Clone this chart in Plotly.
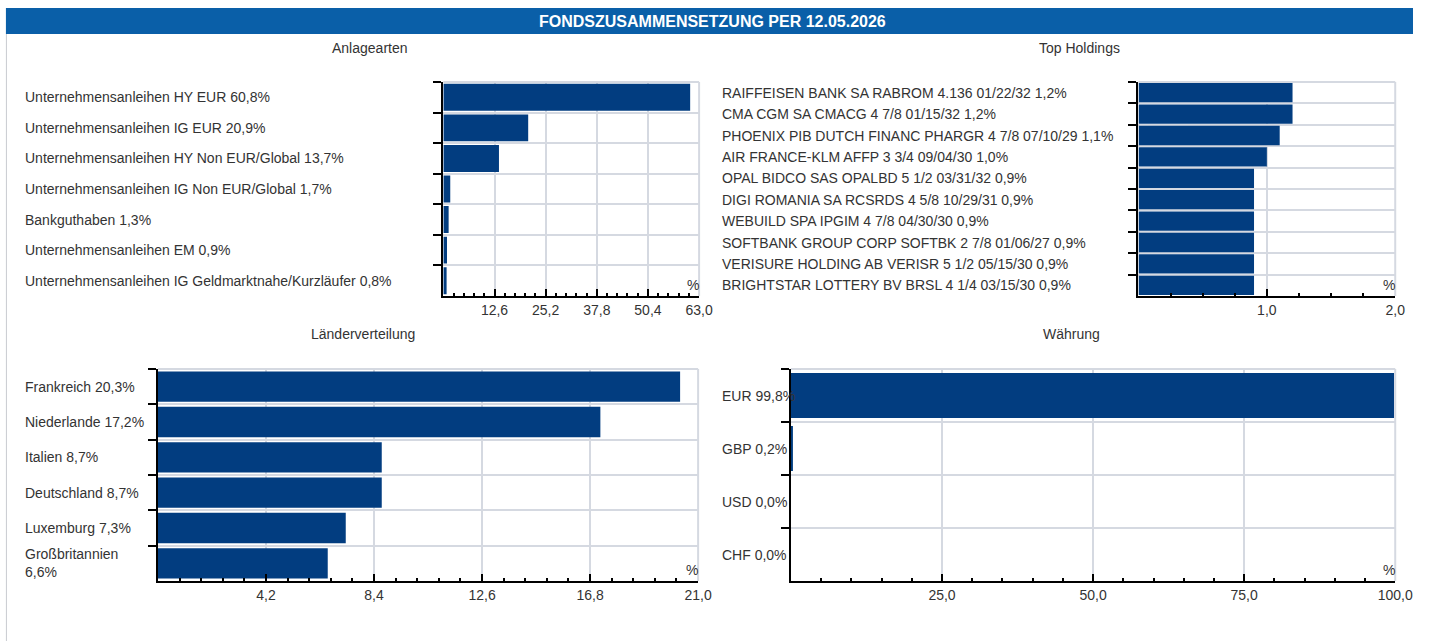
import plotly.graph_objects as go

# ---- data ---------------------------------------------------------------
anlage_names = [
    "Unternehmensanleihen HY EUR",
    "Unternehmensanleihen IG EUR",
    "Unternehmensanleihen HY Non EUR/Global",
    "Unternehmensanleihen IG Non EUR/Global",
    "Bankguthaben",
    "Unternehmensanleihen EM",
    "Unternehmensanleihen IG Geldmarktnahe/Kurzläufer",
]
anlage_values = [60.8, 20.9, 13.7, 1.7, 1.3, 0.9, 0.8]
anlage_ticks = [12.6, 25.2, 37.8, 50.4, 63.0]

holding_names = [
    "RAIFFEISEN BANK SA RABROM 4.136 01/22/32",
    "CMA CGM SA CMACG 4 7/8 01/15/32",
    "PHOENIX PIB DUTCH FINANC PHARGR 4 7/8 07/10/29",
    "AIR FRANCE-KLM AFFP 3 3/4 09/04/30",
    "OPAL BIDCO SAS OPALBD 5 1/2 03/31/32",
    "DIGI ROMANIA SA RCSRDS 4 5/8 10/29/31",
    "WEBUILD SPA IPGIM 4 7/8 04/30/30",
    "SOFTBANK GROUP CORP SOFTBK 2 7/8 01/06/27",
    "VERISURE HOLDING AB VERISR 5 1/2 05/15/30",
    "BRIGHTSTAR LOTTERY BV BRSL 4 1/4 03/15/30",
]
holding_values = [1.2, 1.2, 1.1, 1.0, 0.9, 0.9, 0.9, 0.9, 0.9, 0.9]
holding_ticks = [1.0, 2.0]

land_names = ["Frankreich", "Niederlande", "Italien", "Deutschland", "Luxemburg", "Großbritannien"]
land_values = [20.3, 17.2, 8.7, 8.7, 7.3, 6.6]
land_ticks = [4.2, 8.4, 12.6, 16.8, 21.0]

waehrung_names = ["EUR", "GBP", "USD", "CHF"]
waehrung_values = [99.8, 0.2, 0.0, 0.0]
waehrung_ticks = [25.0, 50.0, 75.0, 100.0]

# ---- styling ------------------------------------------------------------
W, H = 1431, 641
FONT = "Liberation Sans, Arial, sans-serif"
TXT = "#333333"
BAR = "#023d80"
GRID = "#d5d9e1"
HEAD = "#0a5fa8"


def px_x(v):
    return v / W


def px_y(v):
    return (H - v) / H


def pct(v):
    return f"{v:.1f}%".replace(".", ",")


panels = [
    dict(names=anlage_names, values=anlage_values, ticks=anlage_ticks, xmax=63.0, minor=2.52,
         box=(449, 708, 82, 296), lab_x=23, width=0.88, title="Anlagearten", tpos=(375, 48)),
    dict(names=holding_names, values=holding_values, ticks=holding_ticks, xmax=2.0, minor=0.25,
         box=(1153, 1413, 82, 296), lab_x=729, width=0.9, title="Top Holdings", tpos=(1093, 48)),
    dict(names=land_names, values=land_values, ticks=land_ticks, xmax=21.0, minor=0.84,
         box=(160, 707, 369, 581), lab_x=23, width=0.86, title="Länderverteilung", tpos=(368, 334)),
    dict(names=waehrung_names, values=waehrung_values, ticks=waehrung_ticks, xmax=100.0, minor=5.0,
         box=(801, 1413, 369, 581), lab_x=729, width=0.85, title="Währung", tpos=(1085, 334)),
]

fig = go.Figure()
layout = dict(
    width=W, height=H, autosize=False,
    margin=dict(l=0, r=0, t=0, b=0),
    paper_bgcolor="white", plot_bgcolor="white",
    showlegend=False,
    separators=",.",
    font=dict(family=FONT, size=14, color=TXT),
)
annotations = []
shapes = []

for k, p in enumerate(panels):
    i = k + 1
    xa = "x" if i == 1 else f"x{i}"
    ya = "y" if i == 1 else f"y{i}"
    n = len(p["values"])
    idx = list(range(n))
    x0, x1, yt, yb = p["box"]

    fig.add_trace(go.Bar(
        x=p["values"], y=idx, orientation="h", base=0,
        width=p["width"], marker=dict(color=BAR, line=dict(width=0)),
        xaxis=xa, yaxis=ya, hoverinfo="skip",
    ))

    boundaries = [j - 0.5 for j in range(n)]
    layout["xaxis" if i == 1 else f"xaxis{i}"] = dict(
        domain=[px_x(x0), px_x(x1)], anchor=ya, range=[0, p["xmax"]],
        tickmode="array", tickvals=p["ticks"], tickformat=".1f",
        ticks="inside", ticklen=7, tickwidth=2, tickcolor="black",
        showline=True, linecolor="black", linewidth=2,
        showgrid=True, gridcolor=GRID, gridwidth=2, zeroline=False,
        tickfont=dict(family=FONT, size=14, color=TXT),
        minor=dict(tickmode="linear", tick0=0, dtick=p["minor"], ticks="inside",
                   ticklen=3, tickwidth=1.5, tickcolor="black", showgrid=False),
        fixedrange=True,
    )
    layout["yaxis" if i == 1 else f"yaxis{i}"] = dict(
        domain=[px_y(yb), px_y(yt)], anchor=xa, range=[n - 0.5, -0.5],
        tickmode="array", tickvals=boundaries, showticklabels=False,
        ticks="outside", ticklen=8, tickwidth=2, tickcolor="black",
        showline=True, linecolor="black", linewidth=2,
        showgrid=True, gridcolor=GRID, gridwidth=2, zeroline=False,
        fixedrange=True,
    )
    # inner half of the crossing category ticks
    layout[f"yaxis{i + 4}"] = dict(
        overlaying=ya, anchor=xa, side="left", range=[n - 0.5, -0.5],
        tickmode="array", tickvals=boundaries, showticklabels=False,
        ticks="inside", ticklen=6, tickwidth=2, tickcolor="black",
        showline=False, showgrid=False, zeroline=False, fixedrange=True,
    )
    # right and top frame of the plot area
    shapes.append(dict(type="line", xref=f"{xa} domain", yref=f"{ya} domain",
                       x0=1, x1=1, y0=0, y1=1, line=dict(color=GRID, width=2), layer="below"))
    shapes.append(dict(type="line", xref=f"{xa} domain", yref=f"{ya} domain",
                       x0=0, x1=1, y0=1, y1=1, line=dict(color=GRID, width=2), layer="below"))

    # category labels with values
    for j, (name, val) in enumerate(zip(p["names"], p["values"])):
        text = f"{name} {pct(val)}"
        if name == "Großbritannien":
            text = f"{name}<br>{pct(val)}"
        annotations.append(dict(
            text=text, xref="paper", yref=ya, x=px_x(p["lab_x"]), y=j,
            xanchor="left", yanchor="middle", align="left", showarrow=False,
            font=dict(family=FONT, size=14, color=TXT),
        ))

    # unit marker
    annotations.append(dict(
        text="%", xref=f"{xa} domain", yref=f"{ya} domain", x=1, y=0,
        xanchor="right", yanchor="bottom", xshift=2, yshift=1, showarrow=False,
        font=dict(family=FONT, size=14, color=TXT),
    ))
    # panel title
    annotations.append(dict(
        text=p["title"], xref="paper", yref="paper",
        x=px_x(p["tpos"][0]), y=px_y(p["tpos"][1]),
        xanchor="center", yanchor="middle", showarrow=False,
        font=dict(family=FONT, size=14, color=TXT),
    ))

# header bar and outer frame
shapes.append(dict(type="rect", xref="paper", yref="paper",
                   x0=px_x(6), x1=1, y0=px_y(34), y1=px_y(8),
                   fillcolor=HEAD, line=dict(width=0), layer="below"))
shapes.append(dict(type="line", xref="paper", yref="paper",
                   x0=px_x(6.5), x1=px_x(6.5), y0=0, y1=px_y(34),
                   line=dict(color="#c8cbd0", width=1), layer="below"))
annotations.append(dict(
    text="<b>FONDSZUSAMMENSETZUNG PER 12.05.2026</b>", xref="paper", yref="paper",
    x=px_x(722), y=px_y(21), xanchor="center", yanchor="middle", showarrow=False,
    font=dict(family=FONT, size=16, color="white"),
))

layout["annotations"] = annotations
layout["shapes"] = shapes
fig.update_layout(**layout)
fig.write_html("out.html")
